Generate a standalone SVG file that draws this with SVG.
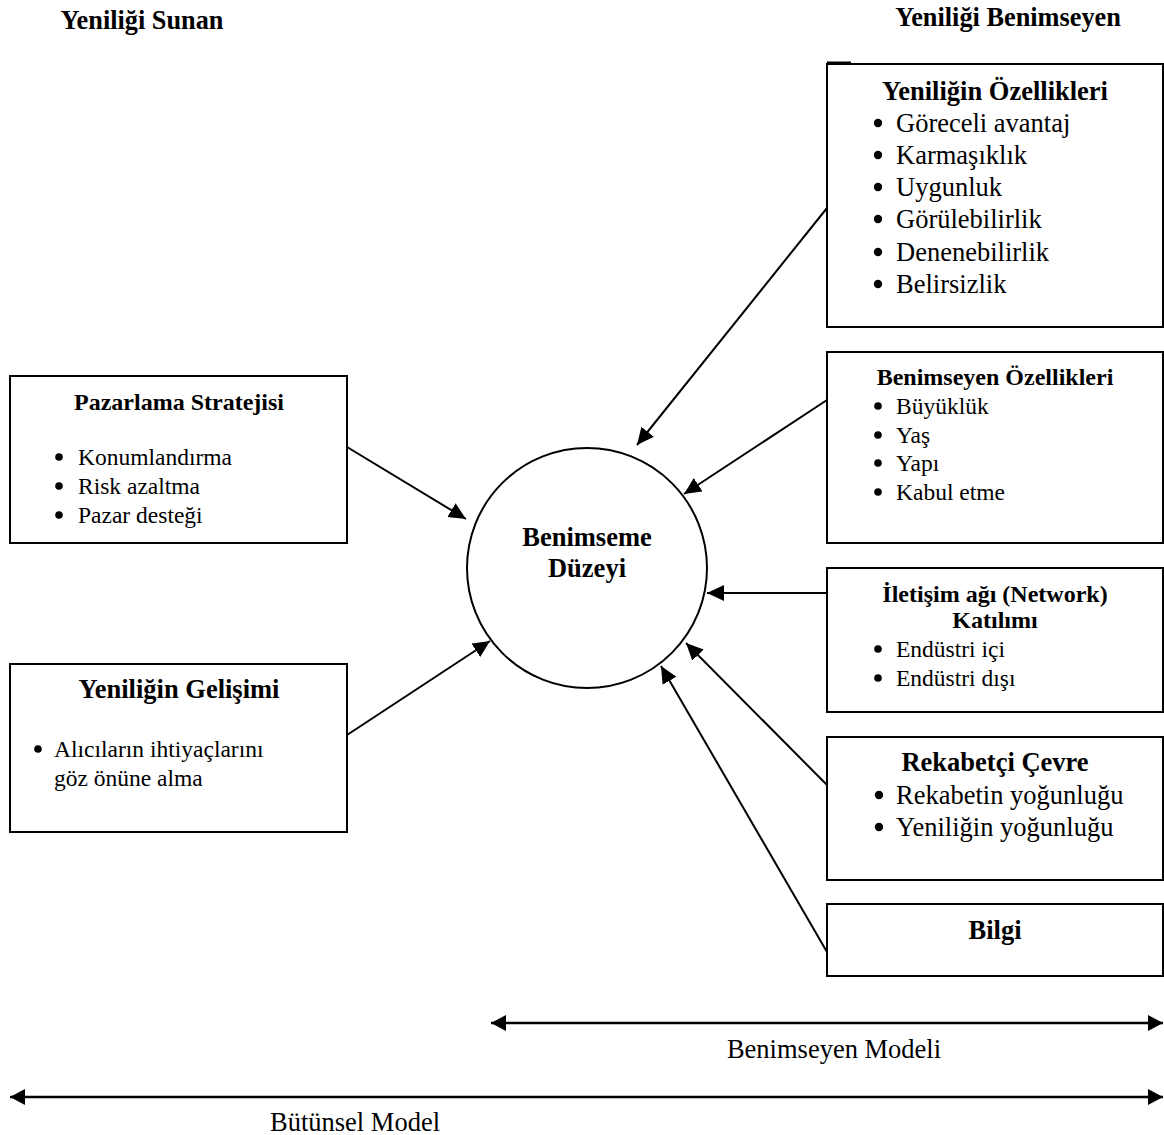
<svg xmlns="http://www.w3.org/2000/svg" width="1164" height="1135" viewBox="0 0 1164 1135">
<style>
  text { font-family: "Liberation Serif", "Times New Roman", serif; fill: #000; }
  .b { font-weight: bold; }
  .c { text-anchor: middle; }
  .box { fill: #fff; stroke: #000; stroke-width: 2; }
  .con { stroke: #000; stroke-width: 2; fill: none; marker-end: url(#ah); }
  .dbl { stroke: #000; stroke-width: 2.5; fill: none; marker-end: url(#ah2); marker-start: url(#ah2); }
  .lg { font-size: 26.5px; }
  .sm { font-size: 23.5px; }
  .hs { font-size: 24px; }
</style>
<defs>
  <marker id="ah" markerUnits="userSpaceOnUse" markerWidth="18" markerHeight="17" refX="17" refY="8" orient="auto">
    <path d="M0,0 L17,8 L0,16 z" fill="#000"/>
  </marker>
  <marker id="ah2" markerUnits="userSpaceOnUse" markerWidth="17" markerHeight="17" refX="15" refY="8" orient="auto-start-reverse">
    <path d="M0,0 L15,8 L0,16 z" fill="#000"/>
  </marker>
</defs>
<rect width="1164" height="1135" fill="#fff"/>

<g id="title-left"><text class="b" x="142" y="29" font-size="26.3" text-anchor="middle">Yeniliği Sunan</text></g>
<g id="title-right"><text class="b" x="1008" y="26" font-size="26.3" text-anchor="middle">Yeniliği Benimseyen</text></g>

<g id="connectors">
  <line class="con" x1="827" y1="208" x2="637" y2="445"/>
  <line class="con" x1="827" y1="400" x2="684" y2="494"/>
  <line class="con" x1="827" y1="593" x2="707" y2="593"/>
  <line class="con" x1="827" y1="785" x2="686" y2="643"/>
  <line class="con" x1="827" y1="952" x2="661" y2="666"/>
  <line class="con" x1="347" y1="447" x2="466" y2="519"/>
  <line class="con" x1="347" y1="735" x2="490" y2="641"/>
</g>

<g id="benimseme-duzeyi">
  <circle cx="587" cy="568" r="120" fill="#fff" stroke="#000" stroke-width="2"/>
  <text class="b c lg" x="587" y="546">Benimseme</text>
  <text class="b c lg" x="587" y="577">Düzeyi</text>
</g>

<g id="pazarlama-stratejisi">
  <rect class="box" x="10" y="376" width="337" height="167"/>
  <text class="b c hs" x="179" y="410">Pazarlama Stratejisi</text>
  <circle cx="59" cy="457" r="3.8"/><text class="sm" x="78" y="465">Konumlandırma</text>
  <circle cx="59" cy="486" r="3.8"/><text class="sm" x="78" y="494">Risk azaltma</text>
  <circle cx="59" cy="515" r="3.8"/><text class="sm" x="78" y="523">Pazar desteği</text>
</g>

<g id="yeniligin-gelisimi">
  <rect class="box" x="10" y="664" width="337" height="168"/>
  <text class="b c lg" x="179" y="698">Yeniliğin Gelişimi</text>
  <circle cx="38" cy="749" r="3.8"/><text class="sm" x="54" y="757" font-size="24">Alıcıların ihtiyaçlarını</text>
  <text class="sm" x="54" y="786" font-size="24">göz önüne alma</text>
</g>

<g id="yeniligin-ozellikleri">
  <rect class="box" x="827" y="64" width="336" height="263"/>
  <path d="M827,63 H851" stroke="#000" stroke-width="3"/>
  <text class="b c lg" x="995" y="100">Yeniliğin Özellikleri</text>
  <circle cx="878" cy="123" r="4.2"/><text class="lg" x="896" y="132">Göreceli avantaj</text>
  <circle cx="878" cy="155" r="4.2"/><text class="lg" x="896" y="164">Karmaşıklık</text>
  <circle cx="878" cy="187" r="4.2"/><text class="lg" x="896" y="196">Uygunluk</text>
  <circle cx="878" cy="219" r="4.2"/><text class="lg" x="896" y="228">Görülebilirlik</text>
  <circle cx="878" cy="252" r="4.2"/><text class="lg" x="896" y="261">Denenebilirlik</text>
  <circle cx="878" cy="284" r="4.2"/><text class="lg" x="896" y="293">Belirsizlik</text>
</g>

<g id="benimseyen-ozellikleri">
  <rect class="box" x="827" y="352" width="336" height="191"/>
  <text class="b c hs" x="995" y="385">Benimseyen Özellikleri</text>
  <circle cx="878" cy="406" r="3.8"/><text class="sm" x="896" y="414">Büyüklük</text>
  <circle cx="878" cy="435" r="3.8"/><text class="sm" x="896" y="443">Yaş</text>
  <circle cx="878" cy="463" r="3.8"/><text class="sm" x="896" y="471">Yapı</text>
  <circle cx="878" cy="492" r="3.8"/><text class="sm" x="896" y="500">Kabul etme</text>
</g>

<g id="iletisim-agi">
  <rect class="box" x="827" y="568" width="336" height="144"/>
  <text class="b c hs" x="995" y="602">İletişim ağı (Network)</text>
  <text class="b c hs" x="995" y="628">Katılımı</text>
  <circle cx="878" cy="649" r="3.8"/><text class="sm" x="896" y="657">Endüstri içi</text>
  <circle cx="878" cy="678" r="3.8"/><text class="sm" x="896" y="686">Endüstri dışı</text>
</g>

<g id="rekabetci-cevre">
  <rect class="box" x="827" y="737" width="336" height="143"/>
  <text class="b c lg" x="995" y="771">Rekabetçi Çevre</text>
  <circle cx="879" cy="795" r="4.2"/><text class="lg" x="896" y="804">Rekabetin yoğunluğu</text>
  <circle cx="879" cy="827" r="4.2"/><text class="lg" x="896" y="836">Yeniliğin yoğunluğu</text>
</g>

<g id="bilgi">
  <rect class="box" x="827" y="904" width="336" height="72"/>
  <text class="b c lg" x="995" y="939">Bilgi</text>
</g>

<g id="scale-arrows">
  <line class="dbl" x1="491" y1="1023" x2="1163" y2="1023"/>
  <text class="lg c" x="834" y="1058">Benimseyen Modeli</text>
  <line class="dbl" x1="10" y1="1097" x2="1163" y2="1097"/>
  <text class="lg c" x="355" y="1131">Bütünsel Model</text>
</g>
</svg>
